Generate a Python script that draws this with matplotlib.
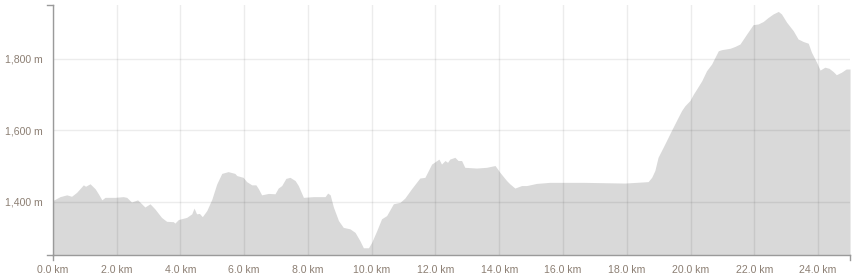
import numpy as np
import matplotlib.pyplot as plt
from matplotlib.ticker import FuncFormatter

# -----------------------------
# Elevation profile
# -----------------------------
dist_km = [
    0.0, 0.23, 0.44, 0.59, 0.75, 0.96, 1.03, 1.17, 1.33, 1.43, 1.54, 1.64,
    1.95, 2.21, 2.32, 2.47, 2.66, 2.73, 2.89, 3.05, 3.2, 3.41, 3.57, 3.78,
    3.83, 3.94, 4.2, 4.36, 4.43, 4.51, 4.6, 4.69, 4.83, 4.99, 5.14, 5.3,
    5.5, 5.71, 5.77, 5.97, 6.08, 6.24, 6.37, 6.45, 6.55, 6.76, 6.97, 7.07,
    7.18, 7.31, 7.44, 7.6, 7.7, 7.86, 8.17, 8.54, 8.62, 8.7, 8.8, 8.96,
    9.11, 9.32, 9.48, 9.63, 9.74, 9.9, 10.0, 10.16, 10.31, 10.47, 10.68,
    10.89, 11.04, 11.25, 11.51, 11.67, 11.88, 12.11, 12.19, 12.3, 12.38,
    12.45, 12.61, 12.71, 12.82, 12.92, 13.29, 13.6, 13.87, 14.02, 14.23,
    14.33, 14.49, 14.7, 14.86, 15.17, 15.59, 16.63, 17.94, 18.67, 18.78,
    18.88, 18.98, 19.19, 19.4, 19.61, 19.72, 19.82, 19.98, 20.09, 20.19,
    20.35, 20.5, 20.66, 20.87, 20.97, 21.24, 21.39, 21.55, 21.76, 21.96,
    22.12, 22.28, 22.43, 22.59, 22.75, 22.85, 23.01, 23.22, 23.37, 23.53,
    23.69, 23.79, 23.95, 24.06, 24.21, 24.34, 24.47, 24.57, 24.73, 24.88,
    25.0,
]
elev_m = [
    1403, 1414, 1419, 1415, 1426, 1447, 1443, 1450, 1436, 1422, 1405, 1412,
    1412, 1414, 1412, 1399, 1405, 1399, 1385, 1394, 1380, 1356, 1345, 1344,
    1340, 1350, 1356, 1366, 1382, 1366, 1367, 1358, 1375, 1407, 1449, 1479,
    1484, 1479, 1473, 1468, 1456, 1447, 1447, 1436, 1419, 1423, 1422, 1438,
    1445, 1465, 1468, 1459, 1445, 1412, 1414, 1414, 1424, 1419, 1385, 1347,
    1328, 1324, 1314, 1291, 1271, 1271, 1286, 1319, 1352, 1361, 1394,
    1398, 1410, 1436, 1466, 1468, 1505, 1519, 1505, 1515, 1510,
    1519, 1524, 1515, 1515, 1496, 1494, 1496, 1501, 1482, 1459,
    1450, 1438, 1445, 1445, 1451, 1454, 1454, 1452, 1456, 1468,
    1487, 1524, 1561, 1599, 1636, 1655, 1668, 1683, 1701, 1715,
    1738, 1766, 1785, 1822, 1825, 1829, 1834, 1841, 1869, 1895,
    1897, 1904, 1915, 1925, 1932, 1925, 1902, 1878, 1855, 1848,
    1843, 1818, 1790, 1768, 1776, 1773, 1764, 1755, 1762, 1771,
    1771,
]

x_ticks = [0, 2, 4, 6, 8, 10, 12, 14, 16, 18, 20, 22, 24]
y_ticks = [1400, 1600, 1800]

x_min, x_max = 0, 25.0
y_min, y_max = 1250, 1950

text_color = "#8c7f73"
axis_color = "#9a9a9a"

fig = plt.figure(figsize=(8.52, 2.78), dpi=100)
ax = fig.add_axes([0.0619, 0.0817, 0.9358, 0.9003])

ax.fill_between(dist_km, elev_m, y_min, color="#d9d9d9", linewidth=0, zorder=1)

ax.set_xlim(x_min, x_max)
ax.set_ylim(y_min, y_max)
ax.set_xticks(x_ticks)
ax.set_yticks(y_ticks)
ax.xaxis.set_major_formatter(FuncFormatter(lambda v, p: f"{v:.1f} km"))
ax.yaxis.set_major_formatter(FuncFormatter(lambda v, p: f"{v:,.0f} m"))

# semi-transparent grid drawn over the fill
ax.grid(True, color="black", alpha=0.075, linewidth=1)
for gl in ax.get_xgridlines() + ax.get_ygridlines():
    gl.set_zorder(2)

ax.tick_params(length=0, labelsize=7.6, labelcolor=text_color)
ax.tick_params(axis="x", pad=7)
ax.tick_params(axis="y", pad=7)
for lbl in ax.get_xticklabels() + ax.get_yticklabels():
    lbl.set_fontfamily("Liberation Sans")

for side in ["top", "right", "left", "bottom"]:
    ax.spines[side].set_visible(False)

# domain paths with the small outer ticks
tr = ax.get_xaxis_transform()
ax.plot([x_min, x_max], [0, 0], color=axis_color, lw=1, transform=tr, clip_on=False, zorder=3)
ax.plot([x_min, x_min], [0, -0.02], color=axis_color, lw=1, transform=tr, clip_on=False, zorder=3)
ax.plot([x_max, x_max], [0, -0.02], color=axis_color, lw=1, transform=tr, clip_on=False, zorder=3)
ty = ax.get_yaxis_transform()
ax.plot([0, 0], [y_min, y_max], color=axis_color, lw=1, transform=ty, clip_on=False, zorder=3)
ax.plot([0, -0.007], [y_max, y_max], color=axis_color, lw=1, transform=ty, clip_on=False, zorder=3)
ax.plot([0, -0.007], [y_min, y_min], color=axis_color, lw=1, transform=ty, clip_on=False, zorder=3)

fig.savefig("out.png", dpi=100)
